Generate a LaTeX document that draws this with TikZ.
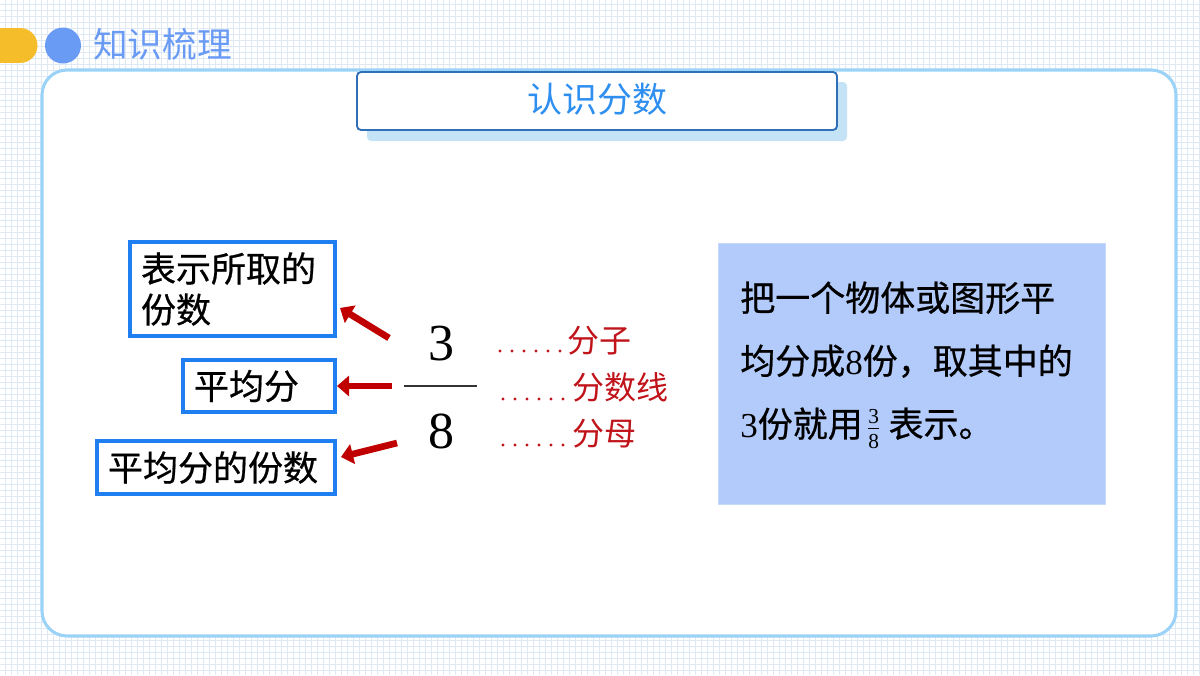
\documentclass[tikz,border=0pt]{standalone}
\usepackage{fontspec}
\setmainfont{Noto Sans CJK SC}
\newfontfamily\cjkb[FakeBold=0.6]{Noto Sans CJK SC}
\newfontfamily\tms{Liberation Serif}
\usetikzlibrary{arrows.meta}
\definecolor{gridc}{HTML}{DFE9F4}
\definecolor{panelc}{HTML}{9BD3F8}
\definecolor{ylw}{HTML}{F5BD2A}
\definecolor{hdblue}{HTML}{6A9BF4}
\definecolor{ttlblue}{HTML}{2E8FF0}
\definecolor{ttlborder}{HTML}{2F6FB8}
\definecolor{shadowc}{HTML}{C5E3F7}
\definecolor{boxblue}{HTML}{1F7FF0}
\definecolor{arrred}{HTML}{C00000}
\definecolor{lblred}{HTML}{C0131A}
\definecolor{descfill}{HTML}{B3CBFA}
\definecolor{descborder}{HTML}{C8DAF9}
\begin{document}
\begin{tikzpicture}[x=0.75pt,y=-0.75pt,
  gridline/.style={draw=gridc,line width=0.75pt},
  cjk/.style={font=\cjkb\fontsize{26.25}{30.75}\selectfont,inner sep=0pt},
  bluebox/.style={draw=boxblue,line width=2.4pt,fill=white,cjk,align=left,inner xsep=8.25pt},
  redarrow/.style={draw=arrred,line width=5pt,-{Triangle[length=9pt,width=15pt]}},
  leader/.style={draw=lblred,line width=2.4pt,line cap=round,dash pattern=on 0pt off 9pt},
  redlabel/.style={text=lblred,font=\fontsize{24}{28}\selectfont,inner sep=0pt,anchor=base west},
  digit/.style={font=\tms\fontsize{39}{44}\selectfont,inner sep=0pt,anchor=base},
  descline/.style={cjk,anchor=base west}]
\useasboundingbox (0,0) rectangle (1200,675);
\fill[white] (0,0) rectangle (1200,675);
% grid
\foreach \gx in {5,11,...,1199} \draw[gridline] (\gx,0) -- (\gx,675);
\foreach \gy in {4,10,...,674} \draw[gridline] (0,\gy) -- (1200,\gy);
% header
\fill[ylw] (0,28) rectangle (20,63);
\fill[ylw] (20,45.5) circle (17.5);
\fill[hdblue] (63,45.5) circle (18);
\node[anchor=base west,inner sep=0pt,text=hdblue,font=\fontsize{26}{30}\selectfont] (hdr) at (93,57) {知识梳理};
% main panel
\draw[draw=panelc,line width=2.3pt,fill=white,rounded corners=18.75pt] (42,70) rectangle (1176,636);
% title
\fill[shadowc,rounded corners=3pt] (367,82) rectangle (847,141);
\node[draw=ttlborder,line width=1.4pt,fill=white,rounded corners=3pt,minimum width=360pt,minimum height=43.5pt,inner sep=0pt] (ttlbox) at (597,101) {};
\node[anchor=base,inner sep=0pt,text=ttlblue,font=\fontsize{26.25}{30}\selectfont] (ttl) at (597,112) {认识分数};
% left boxes
\node[bluebox,minimum width=153.75pt,minimum height=70.5pt,text width=137.25pt] (box1) at (232.5,289) {表示所取的\\份数};
\node[bluebox,minimum width=114pt,minimum height=39pt,text width=97.5pt] (box2) at (259,386) {平均分};
\node[bluebox,minimum width=178.5pt,minimum height=39.75pt,text width=162pt] (box3) at (216,467.5) {平均分的份数};
% fraction
\node[digit] (num) at (441,360) {3};
\node[digit] (den) at (441,448) {8};
\coordinate (barL) at (404,386);
\coordinate (barR) at (477,386);
\draw[draw=black!80,line width=2pt] (barL) -- (barR);
% arrows
\coordinate (t1) at (389,338); \coordinate (h1) at (340,308);
\coordinate (t2) at (392,386); \coordinate (h2) at (337,386);
\coordinate (t3) at (397,443); \coordinate (h3) at (341,457);
\draw[redarrow] (t1) -- (h1);
\draw[redarrow] (t2) -- (h2);
\draw[redarrow] (t3) -- (h3);
% labels
\node[redlabel] (lz) at (567,352) {分子};
\node[redlabel] (lx) at (572,399) {分数线};
\node[redlabel] (lm) at (572,445) {分母};
\coordinate (d1a) at (500,351); \coordinate (d1b) at (560,351);
\coordinate (d2a) at (503,399); \coordinate (d2b) at (563,399);
\coordinate (d3a) at (503,445); \coordinate (d3b) at (563,445);
\draw[leader] (d1a) -- (d1b);
\draw[leader] (d2a) -- (d2b);
\draw[leader] (d3a) -- (d3b);
% description box
\node[draw=descborder,line width=0.75pt,fill=descfill,minimum width=290.25pt,minimum height=195.75pt,inner sep=0pt] (desc) at (911.5,373.5) {};
\node[descline] (dl1) at (740,311) {把一个物体或图形平};
\node[descline] (dl2) at (740,374) {均分成{\tms 8}份，取其中的};
\node[descline] (dl3) at (740,437) {{\tms 3}份就用\kern3pt$\frac{\mbox{\tms\fontsize{16}{16}\selectfont 3}}{\mbox{\tms\fontsize{16}{16}\selectfont 8}}$\kern6pt表示。};
\end{tikzpicture}
\end{document}
